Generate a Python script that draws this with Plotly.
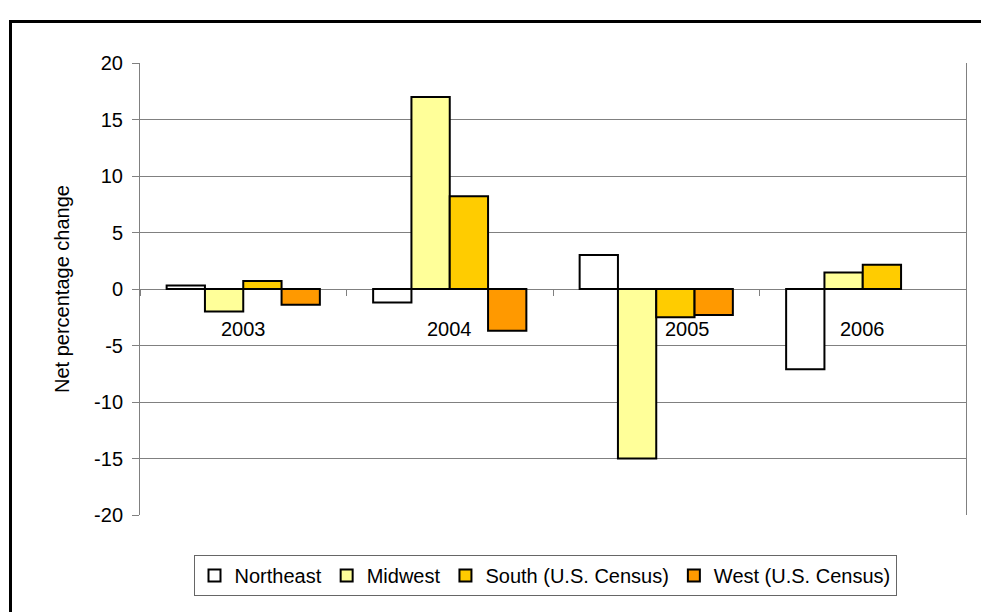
import plotly.graph_objects as go

years = ["2003", "2004", "2005", "2006"]
series_names = ["Northeast", "Midwest", "South (U.S. Census)", "West (U.S. Census)"]
northeast = [0.3, -1.2, 3.0, -7.1]
midwest = [-2.0, 17.0, -15.0, 1.45]
south = [0.7, 8.2, -2.5, 2.15]
west = [-1.4, -3.7, -2.3, None]
colors = ["#FFFFFF", "#FFFF99", "#FFCC00", "#FF9900"]
y_ticks = [-20, -15, -10, -5, 0, 5, 10, 15, 20]

FONT = "Arial, 'Liberation Sans', sans-serif"

fig = go.Figure()
for name, vals, col in zip(series_names, [northeast, midwest, south, west], colors):
    fig.add_trace(go.Bar(
        x=years, y=vals, name=name,
        marker=dict(color=col, line=dict(color="black", width=2)),
    ))

W, H = 981, 612
L, R, T, B = 140, 15, 63, 97
pw, ph = W - L - R, H - T - B

def px_x(x):
    return (x - L) / pw

def px_y(y):
    return (H - B - y) / ph

# category labels sit just below the zero line (label for 2005 nudged right of the deep bar)
label_shift = {"2005": 31}
annotations = [
    dict(x=i, y=0, xref="x", yref="y", text=yr, showarrow=False,
         xanchor="center", yanchor="middle", yshift=-40,
         xshift=label_shift.get(yr, 0),
         font=dict(family=FONT, size=20, color="black"))
    for i, yr in enumerate(years)
]

fig.update_layout(
    width=W, height=H,
    margin=dict(l=L, r=R, t=T, b=B, autoexpand=False),
    paper_bgcolor="white", plot_bgcolor="white",
    font=dict(family=FONT, size=20, color="black"),
    barmode="group", bargap=0.258, bargroupgap=0,
    showlegend=True,
    legend=dict(
        orientation="h", x=px_x(545), xanchor="center",
        y=px_y(555), yanchor="top",
        bordercolor="#666666", borderwidth=1,
        font=dict(family=FONT, size=20, color="black"),
        itemwidth=30, traceorder="normal",
    ),
    xaxis=dict(
        type="category", categoryorder="array", categoryarray=years,
        range=[-0.5, len(years) - 0.5],
        anchor="free", position=0.5,
        showline=True, linecolor="#808080", linewidth=1,
        ticks="outside", tickson="boundaries", ticklen=6, tickcolor="#808080",
        showgrid=False, zeroline=False, layer="below traces",
        showticklabels=False,
    ),
    yaxis=dict(
        range=[-20, 20], tickmode="array", tickvals=y_ticks,
        ticktext=[str(v) for v in y_ticks],
        showline=True, linecolor="#808080", linewidth=1, mirror=True,
        ticks="outside", ticklen=7, tickcolor="#808080",
        showgrid=True, gridcolor="#808080", gridwidth=1,
        zeroline=False, ticklabelstandoff=5,
        tickfont=dict(family=FONT, size=20, color="black"),
        title=dict(text="Net percentage change", standoff=19,
                   font=dict(family=FONT, size=20, color="black")),
    ),
    annotations=annotations,
    shapes=[dict(
        type="rect", xref="paper", yref="paper",
        x0=px_x(10.5), x1=px_x(1000), y0=px_y(640), y1=px_y(21.5),
        line=dict(color="black", width=3), fillcolor="rgba(0,0,0,0)",
        layer="above",
    )],
)

fig.write_html("out.html")
